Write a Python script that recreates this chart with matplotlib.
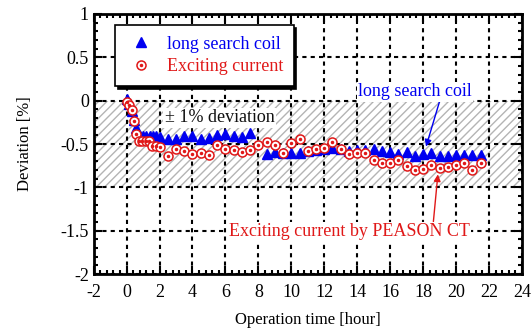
import matplotlib
matplotlib.use("Agg")
import matplotlib.pyplot as plt
from matplotlib.lines import Line2D
from matplotlib.ticker import MultipleLocator

plt.rcParams['font.family'] = ['Liberation Serif', 'DejaVu Serif']
plt.rcParams['hatch.linewidth'] = 1.0

# long search coil (triangles)
coil_t = [0, 0.15, 0.3, 0.45, 0.6, 0.8, 1.0, 1.2, 1.4, 1.6, 1.8, 2.0,
          2.5, 3.0, 3.5, 4.0, 4.5, 5.0, 5.5, 6.0, 6.5, 7.0, 7.5,
          8.5, 9.0, 9.5, 10.0, 10.5, 11.0, 11.5, 12.0, 12.5, 13.0, 13.5,
          14.0, 14.5, 15.0, 15.5, 16.0, 16.5, 17.0, 17.5, 18.0, 18.5,
          19.0, 19.5, 20.0, 20.5, 21.0, 21.5]
coil_dev = [0.02, -0.04, -0.12, -0.22, -0.32, -0.41, -0.41, -0.41, -0.41, -0.41, -0.41, -0.42,
            -0.44, -0.44, -0.41, -0.41, -0.44, -0.43, -0.40, -0.39, -0.41, -0.42, -0.37,
            -0.61, -0.59, -0.60, -0.605, -0.60, -0.585, -0.57, -0.56, -0.55, -0.56, -0.577,
            -0.57, -0.57, -0.56, -0.577, -0.587, -0.618, -0.595, -0.637, -0.618, -0.606,
            -0.637, -0.637, -0.626, -0.626, -0.626, -0.626]

# exciting current (circles)
exc_t = [0, 0.15, 0.3, 0.45, 0.6, 0.75, 0.95, 1.15, 1.35, 1.55, 1.8, 2.05,
         2.5, 3.0, 3.5, 4.0, 4.5, 5.0, 5.5, 6.0, 6.5, 7.0, 7.5, 8.0,
         8.5, 9.0, 9.5, 10.0, 10.5, 11.0, 11.5, 12.0, 12.5, 13.0, 13.5,
         14.0, 14.5, 15.0, 15.5, 16.0, 16.5, 17.0, 17.5, 18.0, 18.5,
         19.0, 19.5, 20.0, 20.5, 21.0, 21.5]
exc_dev = [-0.02, -0.05, -0.11, -0.24, -0.38, -0.465, -0.465, -0.465, -0.465, -0.52, -0.52, -0.537,
           -0.637, -0.56, -0.576, -0.614, -0.606, -0.628, -0.515, -0.56, -0.565, -0.587, -0.568, -0.51,
           -0.472, -0.515, -0.60, -0.488, -0.44, -0.576, -0.56, -0.549, -0.48, -0.56, -0.614,
           -0.60, -0.607, -0.69, -0.72, -0.714, -0.683, -0.752, -0.795, -0.787, -0.741,
           -0.779, -0.768, -0.741, -0.714, -0.798, -0.722]

x_ticks = list(range(-2, 25, 2))
y_ticks = [1, 0.5, 0, -0.5, -1, -1.5, -2]
y_tick_labels = ['1', '0.5', '0', '-0.5', '-1', '-1.5', '-2']

BLUE = '#0000f0'
RED = '#e01818'

fig = plt.figure(figsize=(5.32, 3.29), dpi=100)
ax = fig.add_axes([0.176, 0.167, 0.805, 0.7906])

ax.set_xlim(-2, 24)
ax.set_ylim(-2, 1)

ax.axhspan(-1, 0, facecolor='white', edgecolor='#b4b4b4', hatch='////', lw=0, zorder=1)

ax.xaxis.set_minor_locator(MultipleLocator(0.4))
ax.yaxis.set_minor_locator(MultipleLocator(0.1))
ax.set_xticks(x_ticks)
ax.set_xticklabels([str(v) for v in x_ticks])
ax.set_yticks(y_ticks)
ax.set_yticklabels(y_tick_labels)
ax.tick_params(which='both', direction='in', top=True, right=True, labelsize=13, width=1.5)
ax.tick_params(which='major', length=6)
ax.tick_params(which='minor', length=3)
ax.tick_params(axis='x', pad=7)
for s in ax.spines.values():
    s.set_linewidth(2)
ax.grid(True, which='major', color='black', linestyle=(0, (2, 2)), linewidth=1.5)

ax.plot(coil_t, coil_dev, linestyle='none', marker='^', markersize=6.8,
        color=BLUE, zorder=3)
ax.plot(exc_t, exc_dev, linestyle='none', marker='o', markersize=6.5,
        markerfacecolor='white', markeredgecolor=RED, markeredgewidth=1.1, zorder=4)
ax.plot(exc_t, exc_dev, linestyle='none', marker='o', markersize=1.5,
        color=RED, zorder=5)

ax.set_xlabel('Operation time [hour]', fontsize=12, labelpad=8)
ax.set_ylabel('Deviation [%]', fontsize=12, labelpad=20)

ax.text(5.65, -0.2, '\u00b1 1% deviation', fontsize=13, ha='center', va='center',
        color='#111111', zorder=6,
        bbox=dict(facecolor='white', edgecolor='none', pad=1))

ax.annotate('long search coil', xy=(18.18, -0.53), xytext=(17.5, 0.1),
            fontsize=13, color=BLUE, ha='center', va='center', zorder=7,
            bbox=dict(facecolor='white', edgecolor='none', pad=1),
            arrowprops=dict(arrowstyle='-|>', color=BLUE, lw=1, mutation_scale=10,
                            shrinkA=0, shrinkB=0, relpos=(0.72, 0.0)))
ax.annotate('Exciting current by PEASON CT', xy=(18.9, -0.85), xytext=(13.5, -1.51),
            fontsize=13, color=RED, ha='center', va='center', zorder=7,
            bbox=dict(facecolor='white', edgecolor='none', pad=1),
            arrowprops=dict(arrowstyle='-|>', color=RED, lw=1, mutation_scale=10,
                            shrinkA=0, shrinkB=0, relpos=(0.85, 1.0)))

handles = [Line2D([], [], linestyle='none', marker='^', markersize=6.8, color=BLUE),
           (Line2D([], [], linestyle='none', marker='o', markersize=6.5, markerfacecolor='white',
                   markeredgecolor=RED, markeredgewidth=1.1),
            Line2D([], [], linestyle='none', marker='o', markersize=1.5, color=RED))]
leg = ax.legend(handles, ['long search coil', 'Exciting current'], loc='upper left',
                bbox_to_anchor=(0.05, 0.958), borderaxespad=0, fontsize=13,
                frameon=True, fancybox=False, shadow={'color': 'black', 'alpha': 1},
                borderpad=0.6, handlelength=1.7, handletextpad=0.55, labelspacing=0.3)
leg.get_frame().set_edgecolor('black')
leg.get_frame().set_linewidth(1.2)
leg.set_zorder(8)
for t, c in zip(leg.get_texts(), [BLUE, RED]):
    t.set_color(c)

fig.savefig('out.png', dpi=100)
